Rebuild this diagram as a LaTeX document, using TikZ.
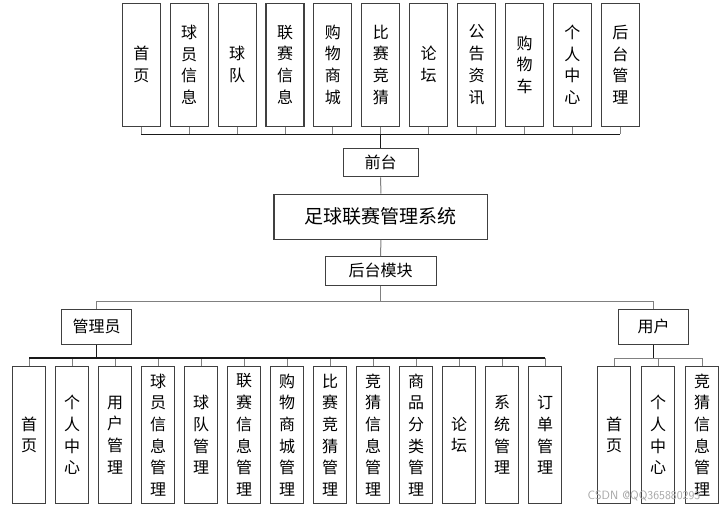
\documentclass[tikz,border=0pt]{standalone}
\usepackage{fontspec}
\newfontfamily\cjk{Noto Sans CJK SC}
\begin{document}
\begin{tikzpicture}[x=1pt,y=-1pt,
  box/.style={draw=black!75, line width=1.1pt, fill=white, inner sep=0pt, align=center,
    font=\cjk\fontsize{16}{21.7}\selectfont},
  topbox/.style={box, minimum width=38pt, minimum height=122.7pt},
  admbox/.style={box, minimum width=33pt, minimum height=136.6pt},
  hbox/.style={box, minimum height=28.5pt},
  ln/.style={draw=black!50, line width=1pt},
  lnd/.style={draw=black!90, line width=1.5pt}]
\useasboundingbox (0,0) rectangle (727,509);

% top row
\foreach \t [count=\i from 0] in {{首\\页},{球\\员\\信\\息},{球\\队},{联\\赛\\信\\息},{购\\物\\商\\城},{比\\赛\\竞\\猜},{论\\坛},{公\\告\\资\\讯},{购\\物\\车},{个\\人\\中\\心},{后\\台\\管\\理}}
  \node[topbox] (t\i) at ({141.3+47.9*\i},64.7) {\t};

\node[hbox, minimum width=74.7pt] (qt) at (380.7,162.5) {前台};
\node[box, minimum width=213.7pt, minimum height=45.3pt, font=\cjk\fontsize{19}{22}\selectfont] (sys) at (380.8,216.7) {足球联赛管理系统};
\node[hbox, minimum width=110.7pt] (ht) at (380.7,270.8) {后台模块};
\node[hbox, minimum width=70pt, minimum height=34.7pt] (adm) at (96.7,326.7) {管理员};
\node[hbox, minimum width=70pt, minimum height=34.7pt] (usr) at (653.7,326.7) {用户};

% admin children
\foreach \t [count=\i from 0] in {{首\\页},{个\\人\\中\\心},{用\\户\\管\\理},{球\\员\\信\\息\\管\\理},{球\\队\\管\\理},{联\\赛\\信\\息\\管\\理},{购\\物\\商\\城\\管\\理},{比\\赛\\竞\\猜\\管\\理},{竞\\猜\\信\\息\\管\\理},{商\\品\\分\\类\\管\\理},{论\\坛},{系\\统\\管\\理},{订\\单\\管\\理}}
  \node[admbox] (a\i) at ({29.2+43*\i},435) {\t};

% user children
\foreach \t [count=\i from 0] in {{首\\页},{个\\人\\中\\心},{竞\\猜\\信\\息\\管\\理}}
  \node[admbox] (u\i) at ({614+44*\i},435) {\t};

% top connectors
\coordinate (bt) at (380.7,134.3);
\foreach \i in {0,...,10} \draw[ln] (t\i.south) -- (t\i.south |- bt);
\draw[lnd] (t0.south |- bt) -- (t10.south |- bt);
\draw[lnd] (qt.north |- bt) -- (qt.north);
\draw[ln] (qt) -- (sys);
\draw[ln] (sys) -- (ht);

% middle bus
\coordinate (bm) at (380.7,301);
\draw[ln] (ht.south) -- (bm);
\draw[ln] (adm.north) -- (adm.north |- bm) -- (usr.north |- bm) -- (usr.north);

% admin bus
\coordinate (ba) at (96.7,358);
\draw[lnd] (adm.south) -- (ba);
\foreach \i in {0,...,12} \draw[ln] (a\i.north) -- (a\i.north |- ba);
\draw[lnd] (a0.north |- ba) -- (a12.north |- ba);

% user bus
\draw[lnd] (usr.south) -- (usr.south |- ba);
\foreach \i in {0,1,2} \draw[ln] (u\i.north) -- (u\i.north |- ba);
\draw[ln] (u0.north |- ba) -- (u2.north |- ba);

\node[text=black!35, font=\sffamily\fontsize{12}{12}\selectfont, anchor=center] (wm) at (644,495.7) {CSDN @QQ365880293};
\end{tikzpicture}
\end{document}
